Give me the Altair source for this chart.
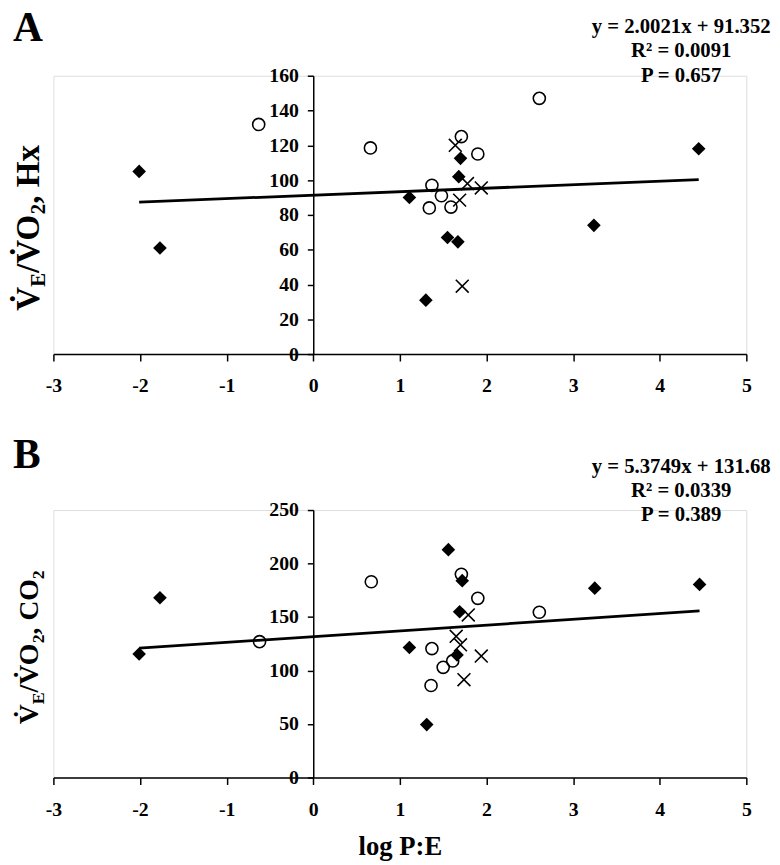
import altair as alt
import pandas as pd

# ---------------- data ----------------
# Panel A : VE/VO2, Hx  vs  log P:E
a_dia_x = [-2.01, -1.77, 1.11, 1.30, 1.55, 1.67, 1.68, 1.70, 3.24, 4.45]
a_dia_y = [105, 61, 90, 31, 67, 64.5, 102, 112.5, 74, 118]
a_cir_x = [-0.63, 0.66, 1.37, 1.34, 1.48, 1.59, 1.71, 1.90, 2.61]
a_cir_y = [132, 118.5, 97, 84, 91, 84.5, 125, 115, 147]
a_crs_x = [1.64, 1.78, 1.69, 1.72, 1.94]
a_crs_y = [120, 98, 88.5, 39, 95.5]
a_slope, a_intercept = 2.0021, 91.352
a_eq = ["y = 2.0021x + 91.352", "R² = 0.0091", "P = 0.657"]

# Panel B : VE/VO2, CO2  vs  log P:E
b_dia_x = [-2.01, -1.77, 1.11, 1.31, 1.56, 1.72, 1.69, 1.66, 3.25, 4.46]
b_dia_y = [115.5, 168, 121.5, 49.5, 213, 184, 155, 114.5, 177, 180.5]
b_cir_x = [-0.62, 0.67, 1.37, 1.36, 1.50, 1.61, 1.71, 1.90, 2.61]
b_cir_y = [127, 183, 120.5, 86, 103, 109, 190, 167.5, 154.5]
b_crs_x = [1.79, 1.65, 1.70, 1.74, 1.94]
b_crs_y = [152, 132, 124, 91.5, 113.5]
b_slope, b_intercept = 5.3749, 131.68
b_eq = ["y = 5.3749x + 131.68", "R² = 0.0339", "P = 0.389"]

x_ticks = [-3, -2, -1, 0, 1, 2, 3, 4, 5]
a_y_ticks = [0, 20, 40, 60, 80, 100, 120, 140, 160]
b_y_ticks = [0, 50, 100, 150, 200, 250]

# ---------------- style ----------------
FONT = "Liberation Serif"
W = 702
XDOM = [-3, 5]
XCROSS = "M-1,-1L1,1M-1,1L1,-1"
one = pd.DataFrame({"k": [0]})


def text_layer(txt, x, y, size, align="left", baseline="alphabetic", angle=0, dx=0, dy=0):
    return alt.Chart(one).mark_text(
        text=txt, font=FONT, fontWeight="bold", fontSize=size, color="black",
        align=align, baseline=baseline, angle=angle, dx=dx, dy=dy
    ).encode(x=alt.value(x), y=alt.value(y))


def title_layers(parts, x, y):
    # parts: list of (text, fontsize, is_subscript, advance)
    layers = []
    pos = 0.0
    for txt, size, sub, adv in parts:
        layers.append(text_layer(txt, x, y, size, angle=270, dx=pos, dy=6 if sub else 0))
        pos += adv
    return layers


def panel(dx_, dy_, cx_, cy_, kx_, ky_, slope, intercept, ydom, yticks, height,
          letter, letter_y, eq, eq_y, title_parts, title_x, title_y, xtitle):
    xs = alt.Scale(domain=XDOM, nice=False, zero=False)
    ys = alt.Scale(domain=ydom, nice=False, zero=False)
    xaxis = alt.Axis(
        values=x_ticks, labelExpr="toString(datum.value)", grid=False,
        tickSize=7, tickWidth=1.5, domainWidth=1.5, domainColor="black", tickColor="black",
        labelFont=FONT, labelFontSize=20, labelFontWeight="bold", labelColor="black",
        labelPadding=15, labelFlush=False, labelOverlap=False,
        title=xtitle, titleFont=FONT, titleFontSize=27, titleFontWeight="bold",
        titleColor="black", titlePadding=15,
    )
    yaxis = alt.Axis(
        values=yticks, tickCount=len(yticks), labelExpr="toString(datum.value)", grid=False,
        tickSize=6, tickWidth=1.5, domainWidth=1.5, domainColor="black", tickColor="black",
        labelFont=FONT, labelFontSize=20, labelFontWeight="bold", labelColor="black",
        labelPadding=9, labelFlush=False, labelOverlap=False, title=None,
        offset=-W * 3 / 8,
    )
    X = alt.X("x:Q", scale=xs, axis=xaxis)
    Y = alt.Y("y:Q", scale=ys, axis=yaxis)

    dia = pd.DataFrame({"x": dx_, "y": dy_})
    cir = pd.DataFrame({"x": cx_, "y": cy_})
    crs = pd.DataFrame({"x": kx_, "y": ky_})
    allx = dx_ + cx_ + kx_
    fit = pd.DataFrame({"x": [min(allx), max(allx)]})

    line = alt.Chart(fit).transform_calculate(
        y=f"{slope} * datum.x + {intercept}"
    ).mark_line(color="black", strokeWidth=2.8).encode(x=X, y=Y)
    diam = alt.Chart(dia).mark_point(
        shape="diamond", filled=True, color="black", size=190, opacity=1
    ).encode(x=X, y=Y)
    circ = alt.Chart(cir).mark_point(
        shape="circle", filled=False, color="black", size=150, strokeWidth=1.6, opacity=1
    ).encode(x=X, y=Y)
    cros = alt.Chart(crs).mark_point(
        shape=XCROSS, filled=False, color="black", size=170, strokeWidth=1.6, opacity=1
    ).encode(x=X, y=Y)

    texts = [text_layer(letter, -41, letter_y, 42)]
    for i, t in enumerate(eq):
        texts.append(text_layer(t, 636, eq_y + 24.5 * i, 21, align="center", baseline="middle"))
    texts += title_layers(title_parts, title_x, title_y)

    return alt.layer(line, diam, circ, cros, *texts).properties(width=W, height=height)


SA, SSA = 33.5, 21
a_title = [("V\u0307", SA, False, 0.722 * SA), ("E", SSA, True, 0.667 * SSA),
           ("/V\u0307O", SA, False, 1.778 * SA), ("2", SSA, True, 0.5 * SSA),
           (", Hx", SA, False, 1.778 * SA)]
SB, SSB = 28, 18
b_title = [("V\u0307", SB, False, 0.722 * SB), ("E", SSB, True, 0.667 * SSB),
           ("/V\u0307O", SB, False, 1.778 * SB), ("2", SSB, True, 0.5 * SSB),
           (", CO", SB, False, 2.0 * SB), ("2", SSB, True, 0.5 * SSB)]

pa = panel(a_dia_x, a_dia_y, a_cir_x, a_cir_y, a_crs_x, a_crs_y, a_slope, a_intercept,
           [0, 160], a_y_ticks, 282, "A", -35, a_eq, -49, a_title, -15, 238, None)
pb = panel(b_dia_x, b_dia_y, b_cir_x, b_cir_y, b_crs_x, b_crs_y, b_slope, b_intercept,
           [0, 250], b_y_ticks, 271, "B", -43, b_eq, -44, b_title, -16, 217, "log P:E")

chart = alt.vconcat(pa, pb, spacing=158, bounds="flush").properties(
    padding={"left": 3, "top": -7, "right": 0, "bottom": 0}
).configure_view(stroke=None).configure(background="white")

chart.save("out.html", embed_options={"renderer": "svg", "actions": False})
